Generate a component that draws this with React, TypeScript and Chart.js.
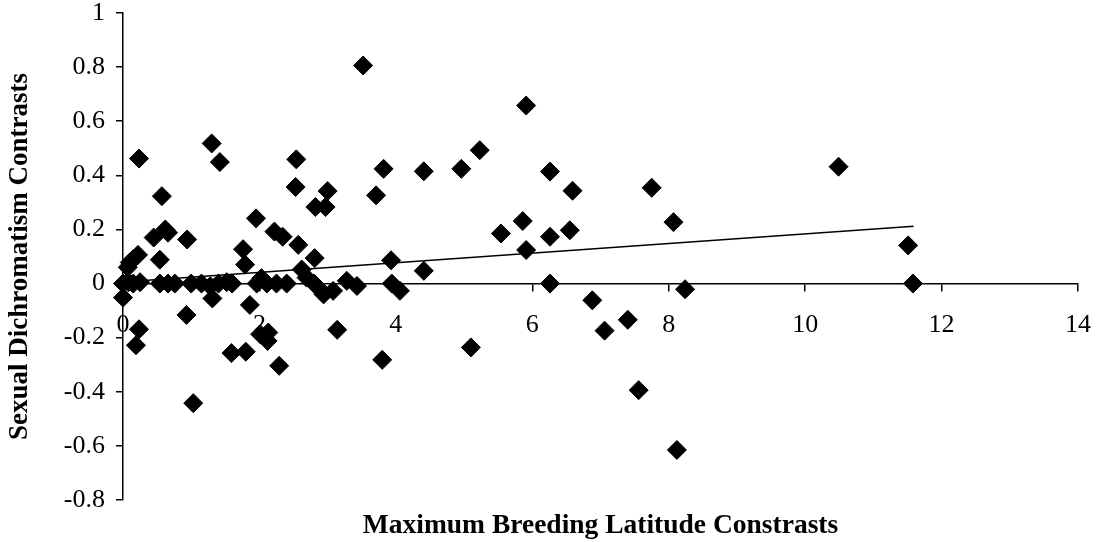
import { useEffect, useRef } from "react";
import { Chart, registerables } from "chart.js";

Chart.register(...registerables);

const latitudeContrasts = [
  3.52, 5.91, 1.3, 5.23, 0.235, 2.54, 1.42, 10.49, 4.96, 3.82, 4.41, 6.26,
  2.53, 7.75, 6.59, 3.0, 3.71, 0.57, 2.82, 2.97, 1.95, 5.86, 8.07, 0.62,
  0.66, 6.55, 2.22, 5.54, 0.45, 2.34, 6.26, 0.94, 2.57, 11.51, 1.76, 5.91,
  0.22, 0.1, 0.15, 0.54, 2.81, 3.93, 1.79, 2.62, 4.41, 2.69, 0.07,
  0.0, 0.08, 0.15, 0.25, 0.54, 0.66, 0.76, 1.0, 1.15, 1.28, 1.4, 1.52,
  1.6, 1.96, 2.03, 2.11, 2.25, 2.4, 2.8, 2.88, 2.94, 3.08, 3.28, 3.43,
  3.94, 6.26, 11.58,
  0.0, 0.235, 0.19, 0.93, 1.03, 1.31, 1.86, 1.59, 1.8, 2.01, 2.13, 2.12,
  2.29, 3.14, 3.8, 4.06, 5.1, 6.88, 7.06, 7.4, 7.56, 8.12, 8.24,
];

const dichromatismContrasts = [
  0.806, 0.658, 0.518, 0.493, 0.462, 0.459, 0.449, 0.432, 0.424, 0.424, 0.415, 0.414,
  0.357, 0.354, 0.343, 0.342, 0.326, 0.323, 0.283, 0.283, 0.241, 0.231, 0.227, 0.2,
  0.188, 0.197, 0.192, 0.185, 0.17, 0.173, 0.173, 0.163, 0.143, 0.141, 0.127, 0.124,
  0.106, 0.078, 0.09, 0.088, 0.094, 0.086, 0.07, 0.052, 0.047, 0.022, 0.06,
  0.0, 0.005, 0.0, 0.005, 0.0, 0.0, 0.0, 0.0, 0.0, -0.01, 0.0, 0.005,
  0.0, 0.0, 0.02, 0.0, 0.0, 0.0, 0.0, -0.02, -0.04, -0.027, 0.01, -0.009,
  0.0, 0.0, 0.0,
  -0.052, -0.169, -0.228, -0.116, -0.442, -0.055, -0.079, -0.257, -0.252, -0.187, -0.181, -0.212,
  -0.304, -0.171, -0.282, -0.027, -0.236, -0.062, -0.174, -0.134, -0.394, -0.615, -0.021,
];

const trendX = [0, 11.59];
const trendY = [0.006, 0.212];

const xTicks = [0, 2, 4, 6, 8, 10, 12, 14];
const yTicks = [-0.8, -0.6, -0.4, -0.2, 0, 0.2, 0.4, 0.6, 0.8, 1];

const xTitle = "Maximum Breeding Latitude Constrasts";
const yTitle = "Sexual Dichromatism Contrasts";

export default function App() {
  const ref = useRef<HTMLCanvasElement>(null);

  useEffect(() => {
    const FONT = "'Liberation Serif', serif";
    const chart = new Chart(ref.current!, {
      type: "scatter",
      data: {
        datasets: [
          {
            type: "line",
            data: trendX.map((x, i) => ({ x, y: trendY[i] })),
            borderColor: "#000",
            borderWidth: 1.6,
            pointRadius: 0,
            fill: false,
          } as any,
          {
            data: latitudeContrasts.map((x, i) => ({ x, y: dichromatismContrasts[i] })),
            pointStyle: "rectRot",
            pointRadius: 9.5,
            backgroundColor: "#000",
            borderColor: "#000",
            borderWidth: 1,
            clip: false,
          } as any,
        ],
      },
      options: {
        responsive: false,
        animation: false,
        layout: { padding: { top: 13, right: 20, left: 0, bottom: 0 } },
        plugins: {
          legend: { display: false },
          tooltip: { enabled: false },
          title: {
            display: true,
            position: "bottom",
            fullSize: false,
            text: xTitle,
            color: "#000",
            font: { family: FONT, size: 27.5, weight: "bold" },
            padding: { top: 9, bottom: 0 },
          },
        },
        scales: {
          x: {
            type: "linear",
            min: 0,
            max: 14,
            position: { y: 0 } as any,
            afterBuildTicks: (s: any) => {
              s.ticks = xTicks.map((v) => ({ value: v }));
            },
            afterFit: (s: any) => {
              s.paddingLeft = 0;
              s.paddingRight = 0;
            },
            grid: { drawOnChartArea: false, drawTicks: true, tickLength: 7, color: "#000", lineWidth: 1.5 },
            border: { color: "#000", width: 1.5 },
            ticks: { color: "#000", font: { family: FONT, size: 26 }, padding: 19, callback: (v: any) => String(v) },
          },
          y: {
            type: "linear",
            min: -0.8,
            max: 1,
            afterBuildTicks: (s: any) => {
              s.ticks = yTicks.map((v) => ({ value: v }));
            },
            afterFit: (s: any) => {
              s.width = 123;
              s.paddingTop = 0;
              s.paddingBottom = 0;
            },
            grid: { drawOnChartArea: false, drawTicks: true, tickLength: 7, color: "#000", lineWidth: 1.5 },
            border: { color: "#000", width: 1.5 },
            ticks: {
              color: "#000",
              font: { family: FONT, size: 26 },
              padding: 11,
              callback: (v: any) => Number(v).toFixed(1).replace(/\.0$/, ""),
            },
            title: {
              display: true,
              text: yTitle,
              color: "#000",
              font: { family: FONT, size: 27, weight: "bold" },
              padding: { top: 4, bottom: 0 },
            },
          },
        },
      },
    });
    return () => chart.destroy();
  }, []);

  return (
    <div style={{ position: "fixed", left: 0, top: 0, width: 1098, height: 542, background: "#fff" }}>
      <canvas ref={ref} width={1098} height={542} style={{ display: "block" }} />
    </div>
  );
}
